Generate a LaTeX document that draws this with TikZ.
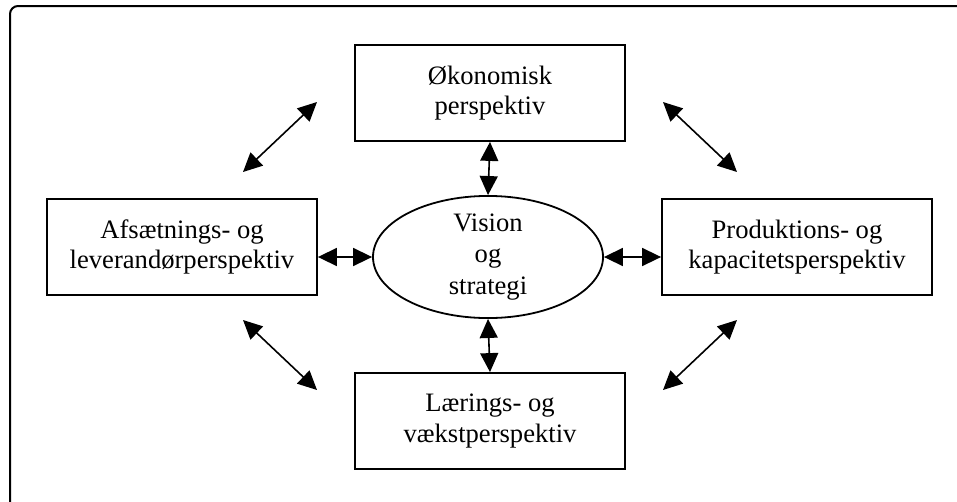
\documentclass[tikz,border=0pt]{standalone}
\usepackage{fontspec}
\setmainfont{Liberation Serif}
\usetikzlibrary{arrows.meta,shapes.geometric}

\tikzset{
  frame/.style={line width=2pt, rounded corners=8pt},
  persp/.style={draw, line width=1.8pt, minimum width=270pt, minimum height=96pt,
    inner sep=0pt, align=center, font=\fontsize{26.6}{30.5}\selectfont},
  core/.style={draw, ellipse, line width=1.8pt, minimum width=230pt, minimum height=116pt,
    inner sep=0pt, align=center, font=\fontsize{26.6}{31.5}\selectfont},
  link/.style={line width=1.6pt,
    {Triangle[length=19pt,width=18pt]}-{Triangle[length=19pt,width=18pt]}}
}

\begin{document}
\begin{tikzpicture}[x=1pt,y=-1pt]
  \useasboundingbox (0,0) rectangle (957,501);

  % outer frame, running off the right and bottom edges
  \draw[frame] (10,520) -- (10,6) -- (980,6);

  % perspectives around the centre
  \node[persp] (oek) at (490,93)  {Økonomisk\\perspektiv};
  \node[persp] (afs) at (182,247) {Afsætnings- og\\leverandørperspektiv};
  \node[persp] (pro) at (797,247) {Produktions- og\\kapacitetsperspektiv};
  \node[persp] (lae) at (490,421) {Lærings- og\\vækstperspektiv};
  \node[core]  (vis) at (488,257) {Vision\\og\\strategi};

  % free ends of the diagonal links
  \coordinate (tl1) at (243,172);
  \coordinate (tl2) at (317,102);
  \coordinate (tr1) at (663,102);
  \coordinate (tr2) at (737,172);
  \coordinate (bl1) at (243,320);
  \coordinate (bl2) at (317,390);
  \coordinate (br1) at (663,390);
  \coordinate (br2) at (737,320);

  % links to the centre
  \draw[link] (oek.south) -- (vis.north);
  \draw[link] (vis.south) -- (lae.north);
  \draw[link] (vis.west -| afs.east) -- (vis.west);
  \draw[link] (vis.east) -- (vis.east -| pro.west);

  % diagonal links between neighbouring perspectives
  \draw[link] (tl1) -- (tl2);
  \draw[link] (tr1) -- (tr2);
  \draw[link] (bl1) -- (bl2);
  \draw[link] (br1) -- (br2);
\end{tikzpicture}
\end{document}
